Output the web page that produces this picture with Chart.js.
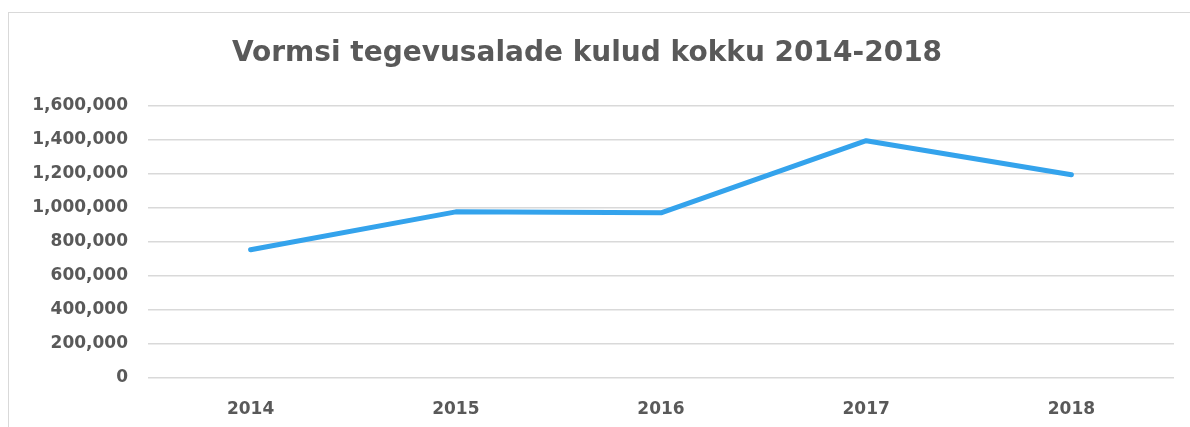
<!DOCTYPE html>
<html>
<head>
<meta charset="utf-8">
<script src="https://cdn.jsdelivr.net/npm/chart.js@4"></script>
<style>
  html, body { margin: 0; padding: 0; background: #fff; overflow: hidden; }
  #frame { position: absolute; left: 8px; top: 12px; width: 1200px; height: 440px; border: 1px solid #d9d9d9; box-sizing: border-box; }
  #wrap { position: absolute; left: 0; top: 0; width: 1190px; height: 427px; }
</style>
</head>
<body>
<div id="frame"></div>
<div id="wrap"><canvas id="c" width="1190" height="427"></canvas></div>
<script>
const years = ["2014", "2015", "2016", "2017", "2018"];
const totals = [753000, 976000, 970000, 1394000, 1194000];
const yTicks = [0, 200000, 400000, 600000, 800000, 1000000, 1200000, 1400000, 1600000];
const titleText = "Vormsi tegevusalade kulud kokku 2014-2018";

const FONT = "'DejaVu Sans', sans-serif";
const GRAY = "#595959";

new Chart(document.getElementById("c"), {
  type: "line",
  data: {
    labels: years,
    datasets: [{
      data: totals,
      borderColor: "#34A3EC",
      borderWidth: 5,
      borderCapStyle: "round",
      borderJoinStyle: "round",
      pointRadius: 0,
      tension: 0,
      fill: false
    }]
  },
  options: {
    responsive: false,
    animation: false,
    devicePixelRatio: 1,
    layout: { padding: { top: 0, left: 0, right: 16, bottom: 0 } },
    plugins: {
      legend: { display: false },
      tooltip: { enabled: false },
      title: {
        display: true,
        text: titleText,
        color: GRAY,
        font: { family: FONT, size: 28, weight: "bold", lineHeight: 1.2 },
        padding: { top: 37, bottom: 35 }
      }
    },
    scales: {
      x: {
        offset: true,
        grid: { display: false, drawTicks: false },
        border: { display: false },
        ticks: { color: GRAY, font: { family: FONT, size: 17, weight: "bold" }, padding: 21, maxRotation: 0 },
        afterFit: (s) => { s.height = 49; }
      },
      y: {
        min: 0,
        max: 1600000,
        afterBuildTicks: (s) => { s.ticks = yTicks.map(v => ({ value: v })); },
        grid: { color: "#d9d9d9", lineWidth: 1.5, drawTicks: false },
        border: { display: false },
        ticks: {
          color: GRAY,
          font: { family: FONT, size: 17, weight: "bold" },
          padding: 20,
          callback: (v) => v.toLocaleString("en-US")
        },
        afterFit: (s) => { s.width = 148; }
      }
    }
  }
});
</script>
</body>
</html>
